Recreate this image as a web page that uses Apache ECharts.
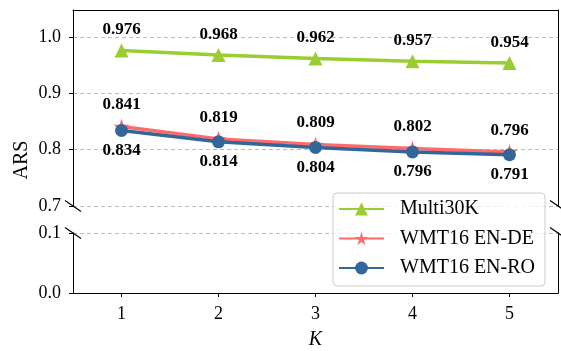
<!DOCTYPE html>
<html>
<head>
<meta charset="utf-8">
<script src="https://cdn.jsdelivr.net/npm/echarts@6/dist/echarts.min.js"></script>
<style>
    html, body { margin: 0; padding: 0; background: #fff; }
    #chart { width: 561px; height: 351px; }
</style>
</head>
<body>
<div id="chart"></div>
<script>
const kValues = [1, 2, 3, 4, 5];
const multi30k = [0.976, 0.968, 0.962, 0.957, 0.954];
const wmtEnDe = [0.841, 0.819, 0.809, 0.802, 0.796];
const wmtEnRo = [0.834, 0.814, 0.804, 0.796, 0.791];
const upperTicks = [0.7, 0.8, 0.9, 1.0];
const lowerTicks = [0.0, 0.1];

const serif = "'Liberation Serif', 'Times New Roman', serif";
const pair = arr => arr.map((v, i) => [kValues[i], v]);

const myChart = echarts.init(document.getElementById('chart'));

const dashed = {
    show: true,
    lineStyle: { type: [4, 3], color: '#bbbbbb', width: 1 }
};
const spine = { show: true, lineStyle: { color: '#000', width: 1 } };
const labelStyle = {
    fontFamily: serif, fontSize: 17, fontWeight: 'bold', color: '#000',
    formatter: p => p.value[1].toFixed(3)
};

let option = {
    animation: false,
    grid: [
        { left: 73, right: 3, top: 10, bottom: 145 },
        { left: 73, right: 3, top: 233, bottom: 53 }
    ],
    legend: {
        orient: 'vertical',
        left: 333,
        top: 193,
        padding: [6, 10, 8, 5],
        itemGap: 9.5,
        itemWidth: 45,
        itemHeight: 16,
        borderColor: '#cccccc',
        borderWidth: 1,
        borderRadius: 4,
        backgroundColor: 'rgba(255,255,255,0.8)',
        textStyle: { fontFamily: serif, fontSize: 20, color: '#000', padding: [0, 0, 0, 11] },
        data: ['Multi30K', 'WMT16 EN-DE', 'WMT16 EN-RO']
    },
    xAxis: [
        {
            type: 'value', gridIndex: 0, position: 'top',
            min: 0.5, max: 5.5,
            axisLine: spine, axisTick: { show: false }, axisLabel: { show: false },
            splitLine: { show: false }
        },
        {
            type: 'value', gridIndex: 1, position: 'bottom',
            min: 0.5, max: 5.5, interval: 1,
            name: 'K', nameLocation: 'middle', nameGap: 37,
            nameTextStyle: { fontFamily: serif, fontSize: 20, fontStyle: 'italic', color: '#000' },
            axisLine: spine,
            axisTick: { show: true, length: 4, lineStyle: { color: '#000' }, customValues: kValues },
            axisLabel: { fontFamily: serif, fontSize: 18, color: '#000', margin: 12, customValues: kValues },
            splitLine: { show: false }
        }
    ],
    yAxis: [
        {
            type: 'value', gridIndex: 0, position: 'left',
            min: 0.7, max: 1.048, interval: 0.1,
            axisLine: spine,
            axisTick: { show: true, length: 4, lineStyle: { color: '#000' }, customValues: upperTicks },
            axisLabel: {
                fontFamily: serif, fontSize: 18, color: '#000', margin: 12,
                customValues: upperTicks, formatter: v => v.toFixed(1)
            },
            splitLine: dashed
        },
        {
            type: 'value', gridIndex: 0, position: 'right',
            min: 0.7, max: 1.048,
            axisLine: spine, axisTick: { show: false }, axisLabel: { show: false },
            splitLine: { show: false }
        },
        {
            type: 'value', gridIndex: 1, position: 'left',
            min: 0, max: 0.1, interval: 0.1,
            axisLine: spine,
            axisTick: { show: true, length: 4, lineStyle: { color: '#000' }, customValues: lowerTicks },
            axisLabel: {
                fontFamily: serif, fontSize: 18, color: '#000', margin: 12,
                customValues: lowerTicks, formatter: v => v.toFixed(1)
            },
            splitLine: dashed
        },
        {
            type: 'value', gridIndex: 1, position: 'right',
            min: 0, max: 0.1,
            axisLine: spine, axisTick: { show: false }, axisLabel: { show: false },
            splitLine: { show: false }
        }
    ],
    series: [
        {
            name: 'Multi30K', type: 'line', xAxisIndex: 0, yAxisIndex: 0,
            data: pair(multi30k),
            symbol: 'triangle', symbolSize: 14,
            lineStyle: { width: 3.5, color: '#9acd32' },
            itemStyle: { color: '#9acd32' },
            label: Object.assign({ show: true, position: 'top', distance: 5 }, labelStyle)
        },
        {
            name: 'WMT16 EN-DE', type: 'line', xAxisIndex: 0, yAxisIndex: 0,
            data: pair(wmtEnDe),
            symbol: 'path://M50,0 L61.8,35.4 L99,35.4 L69,57.3 L80.9,92.7 L50,70.8 L19.1,92.7 L31,57.3 L1,35.4 L38.2,35.4 Z',
            symbolSize: 16,
            lineStyle: { width: 3.5, color: '#ff6b6b' },
            itemStyle: { color: '#ff6b6b' },
            label: Object.assign({ show: true, position: 'top', distance: 5 }, labelStyle)
        },
        {
            name: 'WMT16 EN-RO', type: 'line', xAxisIndex: 0, yAxisIndex: 0,
            data: pair(wmtEnRo),
            symbol: 'circle', symbolSize: 13,
            lineStyle: { width: 3.5, color: '#336699' },
            itemStyle: { color: '#336699' },
            label: Object.assign({ show: true, position: 'bottom', distance: 5 }, labelStyle)
        }
    ]
};

option && myChart.setOption(option);

// break marks on both spines, placed from the axis scales
const breaks = [];
[[0, 0.7], [1, 0.1]].forEach(([gi, yv]) => {
    [0.5, 5.5].forEach(xv => {
        const p = myChart.convertToPixel({ gridIndex: gi }, [xv, yv]);
        breaks.push({
            type: 'line', z: 100,
            shape: { x1: p[0] - 8, y1: p[1] - 5.5, x2: p[0] + 8, y2: p[1] + 5.5 },
            style: { stroke: '#000', lineWidth: 1.2 }
        });
    });
});
myChart.setOption({
    graphic: [
        {
            type: 'text', rotation: Math.PI / 2, x: 22, y: 160,
            style: { text: 'ARS', fontFamily: serif, fontSize: 20, fill: '#000', align: 'center', verticalAlign: 'middle' }
        }
    ].concat(breaks)
});
</script>
</body>
</html>
